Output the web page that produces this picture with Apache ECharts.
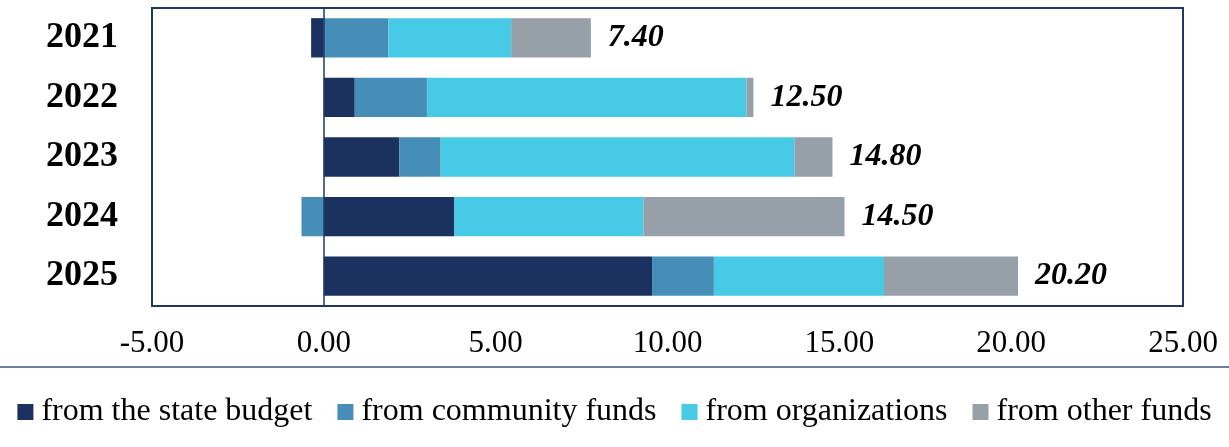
<!DOCTYPE html>
<html>
<head>
<meta charset="utf-8">
<script src="https://cdn.jsdelivr.net/npm/echarts@6/dist/echarts.min.js"></script>
<style>
  html, body { margin: 0; padding: 0; background: #fff; }
  #chart { width: 1229px; height: 447px; }
</style>
</head>
<body>
<div id="chart"></div>
<script>
// data
const years = ['2021', '2022', '2023', '2024', '2025']
const seriesNames = ['from the state budget', 'from community funds', 'from organizations', 'from other funds']
const stateBudget = [-0.37, 0.90, 2.20, 3.80, 9.55]
const communityFunds = [1.88, 2.10, 1.20, -0.65, 1.80]
const organizations = [3.57, 9.30, 10.30, 5.50, 4.95]
const otherFunds = [2.32, 0.20, 1.10, 5.85, 3.90]
const totals = [7.40, 12.50, 14.80, 14.50, 20.20]

const colors = ['#1b3261', '#468eb8', '#46cae6', '#979fa8']
const font = '"Liberation Serif", "Times New Roman", serif'
const navy = '#1f3864'

const chart = echarts.init(document.getElementById('chart'))

const values = [stateBudget, communityFunds, organizations, otherFunds]
const series = values.map((data, i) => {
  const s = {
    name: seriesNames[i],
    type: 'bar',
    stack: 'total',
    barWidth: '66%',
    itemStyle: { color: colors[i] },
    data: data
  }
  if (i === 0) {
    // vertical line at zero
    s.markLine = {
      silent: true,
      symbol: 'none',
      label: { show: false },
      lineStyle: { color: navy, width: 1.5, type: 'solid' },
      data: [{ xAxis: 0 }]
    }
  }
  if (i === values.length - 1) {
    s.label = {
      show: true,
      position: 'right',
      distance: 17,
      fontFamily: font,
      fontSize: 32,
      fontWeight: 'bold',
      fontStyle: 'italic',
      color: '#000',
      formatter: p => totals[p.dataIndex].toFixed(2)
    }
  }
  return s
})

const option = {
  animation: false,
  color: colors,
  grid: {
    show: true,
    left: 152,
    right: 46,
    top: 8,
    bottom: 141,
    borderColor: navy,
    borderWidth: 2
  },
  legend: {
    data: seriesNames,
    bottom: 14,
    left: 'center',
    itemWidth: 16,
    itemHeight: 16,
    itemGap: 25,
    icon: 'rect',
    textStyle: {
      fontFamily: font,
      fontSize: 32,
      color: '#000',
      padding: [0, 0, 0, 3]
    }
  },
  xAxis: {
    type: 'value',
    min: -5,
    max: 25,
    interval: 5,
    axisLine: { show: false },
    axisTick: { show: false },
    splitLine: { show: false },
    axisLabel: {
      margin: 22,
      fontFamily: font,
      fontSize: 31,
      color: '#000',
      formatter: v => v.toFixed(2)
    }
  },
  yAxis: {
    type: 'category',
    inverse: true,
    data: years,
    axisLine: { show: false },
    axisTick: { show: false },
    axisLabel: {
      margin: 34,
      fontFamily: font,
      fontSize: 36,
      fontWeight: 'bold',
      color: '#000'
    }
  },
  graphic: [
    {
      type: 'line',
      shape: { x1: 0, y1: 367, x2: 1229, y2: 367 },
      style: { stroke: '#3b5584', lineWidth: 1.5 }
    }
  ],
  series: series
}

chart.setOption(option)
</script>
</body>
</html>
